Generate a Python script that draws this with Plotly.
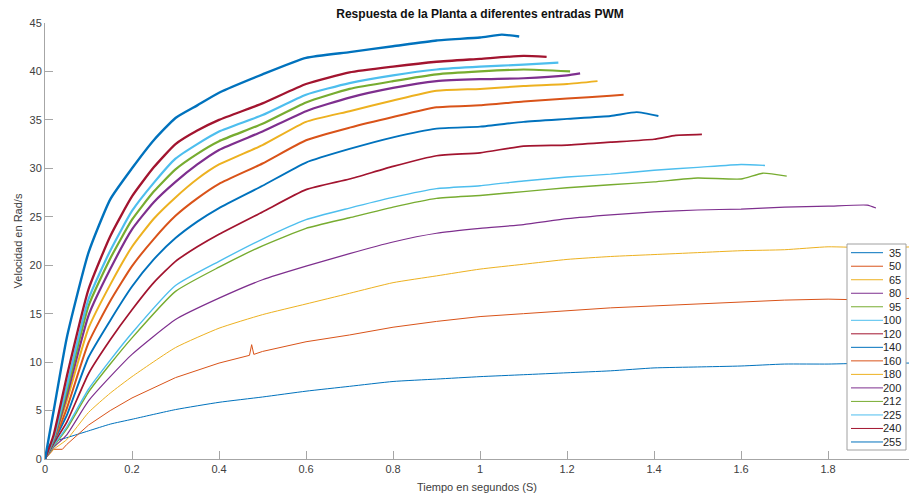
import plotly.graph_objects as go

# ---- data ----
labels = ["35", "50", "65", "80", "95", "100", "120", "140", "160", "180", "200", "212", "225", "240", "255"]

t_35 = [0, 0.01, 0.02, 0.05, 0.1, 0.15, 0.2, 0.3, 0.4, 0.5, 0.6, 0.7, 0.8, 0.9, 1.0, 1.1, 1.2, 1.3, 1.4, 1.5, 1.6, 1.7, 1.8, 1.9, 2.0]
v_35 = [0, 1.5, 1.8, 2.2, 2.9, 3.6, 4.1, 5.1, 5.85, 6.4, 7.0, 7.5, 8.0, 8.25, 8.5, 8.7, 8.9, 9.1, 9.4, 9.5, 9.6, 9.8, 9.8, 9.9, 9.9]

t_50 = [0, 0.02, 0.04, 0.05, 0.1, 0.15, 0.2, 0.3, 0.4, 0.47, 0.475, 0.48, 0.5, 0.6, 0.7, 0.8, 0.9, 1.0, 1.1, 1.2, 1.3, 1.4, 1.5, 1.6, 1.7, 1.8, 1.9, 2.0]
v_50 = [0, 1.0, 1.0, 1.5, 3.5, 5.0, 6.3, 8.4, 9.9, 10.7, 11.8, 10.8, 11.1, 12.1, 12.8, 13.6, 14.2, 14.7, 15.0, 15.3, 15.6, 15.8, 16.0, 16.2, 16.4, 16.5, 16.4, 16.6]

t_65 = [0, 0.02, 0.05, 0.1, 0.15, 0.2, 0.3, 0.4, 0.5, 0.6, 0.7, 0.8, 0.9, 1.0, 1.1, 1.2, 1.3, 1.4, 1.5, 1.6, 1.7, 1.8, 1.9, 2.0]
v_65 = [0, 1.0, 2.0, 4.8, 6.8, 8.5, 11.5, 13.5, 14.9, 16.0, 17.1, 18.2, 18.9, 19.6, 20.1, 20.6, 20.9, 21.1, 21.3, 21.5, 21.6, 21.9, 21.8, 21.9]

t_80 = [0, 0.02, 0.05, 0.1, 0.15, 0.2, 0.3, 0.4, 0.5, 0.6, 0.7, 0.8, 0.9, 1.0, 1.1, 1.2, 1.3, 1.4, 1.5, 1.6, 1.7, 1.8, 1.89, 1.91]
v_80 = [0, 1.2, 2.5, 6.0, 8.5, 10.8, 14.4, 16.6, 18.5, 19.9, 21.2, 22.4, 23.3, 23.8, 24.2, 24.8, 25.2, 25.5, 25.7, 25.8, 26.0, 26.1, 26.2, 25.9]

t_95 = [0, 0.02, 0.05, 0.1, 0.15, 0.2, 0.3, 0.4, 0.5, 0.6, 0.7, 0.8, 0.9, 1.0, 1.1, 1.2, 1.3, 1.4, 1.5, 1.6, 1.65, 1.705]
v_95 = [0, 1.3, 3.1, 6.9, 9.8, 12.5, 17.3, 19.8, 22.0, 23.8, 24.9, 26.0, 26.9, 27.2, 27.6, 28.0, 28.3, 28.6, 29.0, 28.9, 29.5, 29.2]

t_100 = [0, 0.02, 0.05, 0.1, 0.15, 0.2, 0.3, 0.4, 0.5, 0.6, 0.7, 0.8, 0.9, 1.0, 1.1, 1.2, 1.3, 1.4, 1.5, 1.6, 1.655]
v_100 = [0, 1.4, 3.3, 7.2, 10.2, 13.0, 17.9, 20.4, 22.7, 24.7, 25.9, 27.0, 27.9, 28.2, 28.7, 29.1, 29.4, 29.8, 30.1, 30.4, 30.3]

t_120 = [0, 0.02, 0.05, 0.1, 0.15, 0.2, 0.25, 0.3, 0.35, 0.4, 0.5, 0.6, 0.7, 0.8, 0.9, 1.0, 1.1, 1.2, 1.3, 1.4, 1.45, 1.51]
v_120 = [0, 1.6, 3.8, 8.8, 12.3, 15.4, 18.2, 20.4, 21.9, 23.2, 25.5, 27.8, 28.9, 30.2, 31.3, 31.6, 32.3, 32.4, 32.7, 33.0, 33.4, 33.5]

t_140 = [0, 0.02, 0.05, 0.1, 0.15, 0.2, 0.25, 0.3, 0.35, 0.4, 0.5, 0.6, 0.7, 0.8, 0.9, 1.0, 1.1, 1.2, 1.3, 1.36, 1.41]
v_140 = [0, 1.8, 4.5, 10.5, 14.3, 17.8, 20.6, 22.8, 24.5, 25.9, 28.2, 30.6, 32.0, 33.2, 34.1, 34.3, 34.8, 35.1, 35.4, 35.8, 35.4]

t_160 = [0, 0.02, 0.05, 0.1, 0.15, 0.2, 0.25, 0.3, 0.35, 0.4, 0.5, 0.6, 0.7, 0.8, 0.9, 1.0, 1.1, 1.2, 1.3, 1.33]
v_160 = [0, 1.9, 5.2, 12.0, 16.3, 19.9, 22.7, 25.1, 26.9, 28.4, 30.5, 32.9, 34.2, 35.3, 36.3, 36.5, 36.9, 37.2, 37.5, 37.6]

t_180 = [0, 0.02, 0.05, 0.1, 0.15, 0.2, 0.25, 0.3, 0.35, 0.4, 0.5, 0.6, 0.7, 0.8, 0.9, 1.0, 1.1, 1.2, 1.27]
v_180 = [0, 2.0, 6.0, 13.5, 18.0, 21.9, 24.8, 27.0, 28.9, 30.4, 32.4, 34.8, 35.9, 37.0, 38.0, 38.2, 38.5, 38.7, 39.0]

t_200 = [0, 0.02, 0.05, 0.1, 0.15, 0.2, 0.25, 0.3, 0.35, 0.4, 0.5, 0.6, 0.7, 0.8, 0.9, 1.0, 1.1, 1.2, 1.23]
v_200 = [0, 2.0, 6.5, 14.8, 19.6, 23.7, 26.5, 28.6, 30.4, 31.9, 33.8, 35.9, 37.3, 38.3, 39.0, 39.2, 39.3, 39.6, 39.8]

t_212 = [0, 0.02, 0.05, 0.1, 0.15, 0.2, 0.25, 0.3, 0.35, 0.4, 0.5, 0.6, 0.7, 0.8, 0.9, 1.0, 1.1, 1.207]
v_212 = [0, 2.1, 7.0, 15.8, 20.7, 24.7, 27.6, 29.9, 31.5, 32.8, 34.6, 36.8, 38.2, 39.0, 39.7, 40.0, 40.2, 40.0]

t_225 = [0, 0.02, 0.05, 0.1, 0.15, 0.2, 0.25, 0.3, 0.35, 0.4, 0.5, 0.6, 0.7, 0.8, 0.9, 1.0, 1.1, 1.18]
v_225 = [0, 2.2, 7.5, 16.5, 21.5, 25.6, 28.5, 31.0, 32.5, 33.8, 35.5, 37.6, 38.8, 39.6, 40.2, 40.5, 40.7, 40.9]

t_240 = [0, 0.02, 0.05, 0.1, 0.15, 0.2, 0.25, 0.3, 0.35, 0.4, 0.5, 0.6, 0.7, 0.8, 0.9, 1.0, 1.1, 1.153]
v_240 = [0, 2.5, 8.5, 17.5, 23.0, 27.1, 30.1, 32.5, 33.9, 35.0, 36.7, 38.7, 39.9, 40.5, 41.0, 41.3, 41.6, 41.5]

t_255 = [0, 0.02, 0.05, 0.1, 0.15, 0.2, 0.25, 0.3, 0.35, 0.4, 0.5, 0.6, 0.7, 0.8, 0.9, 1.0, 1.05, 1.09]
v_255 = [0, 5.0, 12.5, 21.3, 26.8, 30.0, 32.9, 35.2, 36.5, 37.8, 39.7, 41.4, 42.0, 42.6, 43.2, 43.5, 43.8, 43.6]

times = [t_35, t_50, t_65, t_80, t_95, t_100, t_120, t_140, t_160, t_180, t_200, t_212, t_225, t_240, t_255]
values = [v_35, v_50, v_65, v_80, v_95, v_100, v_120, v_140, v_160, v_180, v_200, v_212, v_225, v_240, v_255]

x_ticks = [0, 0.2, 0.4, 0.6, 0.8, 1.0, 1.2, 1.4, 1.6, 1.8, 2.0]
y_ticks = [0, 5, 10, 15, 20, 25, 30, 35, 40, 45]

# ---- style ----
palette = ["#0072BD", "#D95319", "#EDB120", "#7E2F8E", "#77AC30", "#4DBEEE", "#A2142F"]
widths = [1, 1, 1, 1.2, 1.4, 1.4, 1.7, 1.9, 2.0, 2.0, 2.2, 2.2, 2.2, 2.3, 2.4]
axis_col = "#a6a6a6"
text_col = "#404040"
font_fam = "Liberation Sans, Arial, sans-serif"

W, H = 909, 495
ML, MR, MT, MB = 45, 0, 23, 36
PW, PH = W - ML - MR, H - MT - MB


def px_x(p):
    return (p - ML) / PW


def px_y(p):
    return (H - MB - p) / PH


fig = go.Figure()
for i, (lab, t, v) in enumerate(zip(labels, times, values)):
    fig.add_trace(go.Scatter(
        x=t, y=v, mode="lines", name=lab, showlegend=False,
        line=dict(color=palette[i % len(palette)], width=widths[i],
                  shape="linear" if lab == "50" else "spline", smoothing=0.5),
    ))

# ---- legend box (MATLAB style, compact) ----
shapes = []
annotations = []
lg_left, lg_right, lg_top, lg_bottom = 847, 906, 244, 450
shapes.append(dict(type="rect", xref="paper", yref="paper",
                   x0=px_x(lg_left), x1=px_x(lg_right), y0=px_y(lg_bottom), y1=px_y(lg_top),
                   line=dict(color="#a0a0a0", width=1), fillcolor="white", layer="above"))
for i, lab in enumerate(labels):
    yc = 252.7 + i * 13.52
    shapes.append(dict(type="line", xref="paper", yref="paper",
                       x0=px_x(851), x1=px_x(883), y0=px_y(yc), y1=px_y(yc),
                       line=dict(color=palette[i % len(palette)], width=1), layer="above"))
    annotations.append(dict(xref="paper", yref="paper", x=px_x(903), y=px_y(yc),
                            xanchor="right", yanchor="middle", showarrow=False,
                            text=lab, font=dict(family=font_fam, size=11, color="#262626")))

fig.update_layout(
    width=W, height=H,
    margin=dict(l=ML, r=MR, t=MT, b=MB),
    paper_bgcolor="white", plot_bgcolor="white",
    font=dict(family=font_fam, size=11, color=text_col),
    title=dict(text="<b>Respuesta de la Planta a diferentes entradas PWM</b>",
               x=(480 / W), xanchor="center", y=1 - 14 / H, yanchor="middle",
               font=dict(size=12, color="#111111")),
    showlegend=False,
    shapes=shapes,
    annotations=annotations,
)
fig.update_xaxes(
    range=[0, 1.986], tickvals=x_ticks, ticktext=[("%g" % v) for v in x_ticks],
    showline=True, linecolor=axis_col, linewidth=1,
    ticks="inside", ticklen=8, tickcolor=axis_col,
    showgrid=False, zeroline=False, automargin=False,
    title=dict(text="Tiempo en segundos (S)", standoff=9, font=dict(size=11, color=text_col)),
)
fig.update_yaxes(
    range=[0, 45], tickvals=y_ticks,
    showline=True, linecolor=axis_col, linewidth=1,
    ticks="inside", ticklen=8, tickcolor=axis_col,
    showgrid=False, zeroline=False, automargin=False,
    title=dict(text="Velocidad en Rad/s", standoff=4, font=dict(size=11, color=text_col)),
)

fig.write_html("out.html", config={"displayModeBar": False})
